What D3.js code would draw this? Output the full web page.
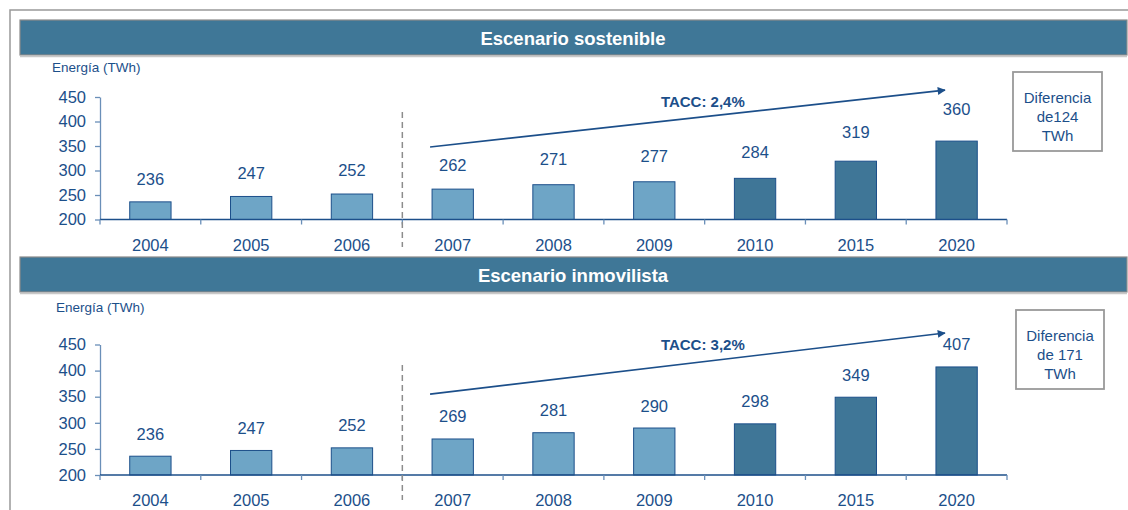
<!DOCTYPE html>
<html>
<head>
<meta charset="utf-8">
<script src="https://cdn.jsdelivr.net/npm/d3@7"></script>
<style>
  body { margin: 0; background: #fff; }
  svg { display: block; font-family: "Liberation Sans", Arial, sans-serif; }
</style>
</head>
<body>
<svg id="chart" width="1128" height="510"></svg>
<script>
// ----------

const YEARS = ["2004", "2005", "2006", "2007", "2008", "2009", "2010", "2015", "2020"];
const SOSTENIBLE = [236, 247, 252, 262, 271, 277, 284, 319, 360];
const INMOVILISTA = [236, 247, 252, 269, 281, 290, 298, 349, 407];
const DARK_YEARS = ["2010", "2015", "2020"];
const Y_TICKS = [200, 250, 300, 350, 400, 450];

const TEXT_BLUE = "#1c4f8a";
const HEADER_FILL = "#3f7797";
const BAR_LIGHT = "#6ea5c6";
const BAR_DARK = "#3f7697";

const panels = [
  {
    title: "Escenario sostenible", values: SOSTENIBLE, tacc: "TACC: 2,4%",
    note: ["Diferencia", "de124", "TWh"],
    headerY: 20, labelY: 67, yTop: 97, yBottom: 219.5, labelX: 52,
    dashTop: 112, dashBottom: 247, arrow: [348, 464], labelGrow: 0.08,
    box: { x: 1013, y: 72, w: 89, h: 79 }
  },
  {
    title: "Escenario inmovilista", values: INMOVILISTA, tacc: "TACC: 3,2%",
    note: ["Diferencia", "de 171", "TWh"],
    headerY: 257, labelY: 307, yTop: 344.5, yBottom: 475, labelX: 56,
    dashTop: 365, dashBottom: 500, arrow: [355, 472], labelGrow: 0,
    box: { x: 1016, y: 310, w: 88, h: 79 }
  }
];

// ----------

const svg = d3.select("#chart");

let defs = svg.append("defs");
defs.append("marker")
  .attr("id", "arrowhead")
  .attr("viewBox", "0 0 10 10")
  .attr("refX", 9).attr("refY", 5)
  .attr("markerWidth", 9).attr("markerHeight", 8)
  .attr("markerUnits", "userSpaceOnUse")
  .attr("orient", "auto")
  .append("path").attr("d", "M0,0 L10,5 L0,10 z").attr("fill", TEXT_BLUE);

// outer frame
svg.append("rect")
  .attr("x", 10).attr("y", 10).attr("width", 1140).attr("height", 520)
  .attr("fill", "none").attr("stroke", "#999").attr("stroke-width", 1.5);

const x = d3.scaleBand().domain(YEARS).range([100, 1007]).paddingInner(0.59).paddingOuter(0.295);

function drawPanel(p) {
  let g = svg.append("g");

  // header band
  g.append("rect")
    .attr("x", 20).attr("y", p.headerY).attr("width", 1107).attr("height", 35)
    .attr("fill", HEADER_FILL).attr("stroke", "#8a8a8a").attr("stroke-width", 1.2);
  g.append("line")
    .attr("x1", 20).attr("x2", 1127).attr("y1", p.headerY + 36.5).attr("y2", p.headerY + 36.5)
    .attr("stroke", "#c8c8c8").attr("stroke-width", 1.5);
  g.append("text")
    .attr("x", 573).attr("y", p.headerY + 18)
    .attr("text-anchor", "middle").attr("dominant-baseline", "central")
    .attr("fill", "#fff").attr("font-size", 18.5).attr("font-weight", "bold")
    .text(p.title);

  g.append("text")
    .attr("x", p.labelX).attr("y", p.labelY)
    .attr("dominant-baseline", "central")
    .attr("fill", TEXT_BLUE).attr("font-size", 13.5)
    .text("Energía (TWh)");

  let y = d3.scaleLinear().domain([200, 450]).range([p.yBottom, p.yTop]);

  // y axis
  let yAxis = g.append("g")
    .attr("transform", "translate(100,0)")
    .call(d3.axisLeft(y).tickValues(Y_TICKS).tickSize(5).tickPadding(9).tickSizeOuter(0));
  yAxis.selectAll("text").attr("fill", TEXT_BLUE).attr("font-size", 16.5)
    .style("font-family", "'Liberation Sans', Arial, sans-serif");
  yAxis.selectAll("line, path").attr("stroke", "#6a8fb8").attr("stroke-width", 1.3);

  // bars
  g.selectAll("rect.bar")
    .data(p.values)
    .enter()
    .append("rect")
    .attr("class", "bar")
    .attr("x", (d, i) => x(YEARS[i]))
    .attr("width", x.bandwidth())
    .attr("y", d => y(d))
    .attr("height", d => y(200) - y(d))
    .attr("fill", (d, i) => DARK_YEARS.includes(YEARS[i]) ? BAR_DARK : BAR_LIGHT)
    .attr("stroke", TEXT_BLUE).attr("stroke-width", 1);

  // value labels
  g.selectAll("text.val")
    .data(p.values)
    .enter()
    .append("text")
    .attr("class", "val")
    .attr("x", (d, i) => x(YEARS[i]) + x.bandwidth() / 2)
    .attr("y", d => y(d) - 22.5 - p.labelGrow * (d - 236))
    .attr("text-anchor", "middle").attr("dominant-baseline", "central")
    .attr("fill", TEXT_BLUE).attr("font-size", 16.5)
    .text(d => d);

  // x axis with ticks at category boundaries
  let step = x.step();
  let bounds = d3.range(YEARS.length + 1).map(i => 100 + i * step);
  g.append("line")
    .attr("x1", 100).attr("x2", 1007).attr("y1", y(200)).attr("y2", y(200))
    .attr("stroke", TEXT_BLUE).attr("stroke-width", 1.3);
  g.selectAll("line.xtick")
    .data(bounds)
    .enter()
    .append("line")
    .attr("class", "xtick")
    .attr("x1", d => d).attr("x2", d => d)
    .attr("y1", y(200)).attr("y2", y(200) + 5)
    .attr("stroke", "#6a8fb8").attr("stroke-width", 1.3);
  g.selectAll("text.year")
    .data(YEARS)
    .enter()
    .append("text")
    .attr("class", "year")
    .attr("x", d => x(d) + x.bandwidth() / 2)
    .attr("y", y(200) + 25)
    .attr("text-anchor", "middle").attr("dominant-baseline", "central")
    .attr("fill", TEXT_BLUE).attr("font-size", 16.5)
    .text(d => d);

  // dashed separator between history and forecast
  let sepX = 100 + 3 * step;
  g.append("line")
    .attr("x1", sepX).attr("x2", sepX).attr("y1", p.dashTop).attr("y2", p.dashBottom)
    .attr("stroke", "#8c8c8c").attr("stroke-width", 1.5).attr("stroke-dasharray", "6,4");

  // growth arrow
  let ax1 = x("2007") - 2;
  let ax2 = x("2020") + 9;
  g.append("line")
    .attr("x1", ax1).attr("y1", y(p.arrow[0]))
    .attr("x2", ax2).attr("y2", y(p.arrow[1]))
    .attr("stroke", TEXT_BLUE).attr("stroke-width", 1.6)
    .attr("marker-end", "url(#arrowhead)");
  g.append("text")
    .attr("x", x("2008") + 170).attr("y", y(p.arrow[1]) + 11)
    .attr("text-anchor", "middle").attr("dominant-baseline", "central")
    .attr("fill", TEXT_BLUE).attr("font-size", 15).attr("font-weight", "bold")
    .text(p.tacc);

  // difference box
  g.append("rect")
    .attr("x", p.box.x).attr("y", p.box.y).attr("width", p.box.w).attr("height", p.box.h)
    .attr("fill", "#fff").attr("stroke", "#999").attr("stroke-width", 1.8);
  g.selectAll("text.note")
    .data(p.note)
    .enter()
    .append("text")
    .attr("class", "note")
    .attr("x", p.box.x + p.box.w / 2)
    .attr("y", (d, i) => p.box.y + 25 + i * 19)
    .attr("text-anchor", "middle").attr("dominant-baseline", "central")
    .attr("fill", TEXT_BLUE).attr("font-size", 15)
    .text(d => d);
}

panels.forEach(drawPanel);
</script>
</body>
</html>
